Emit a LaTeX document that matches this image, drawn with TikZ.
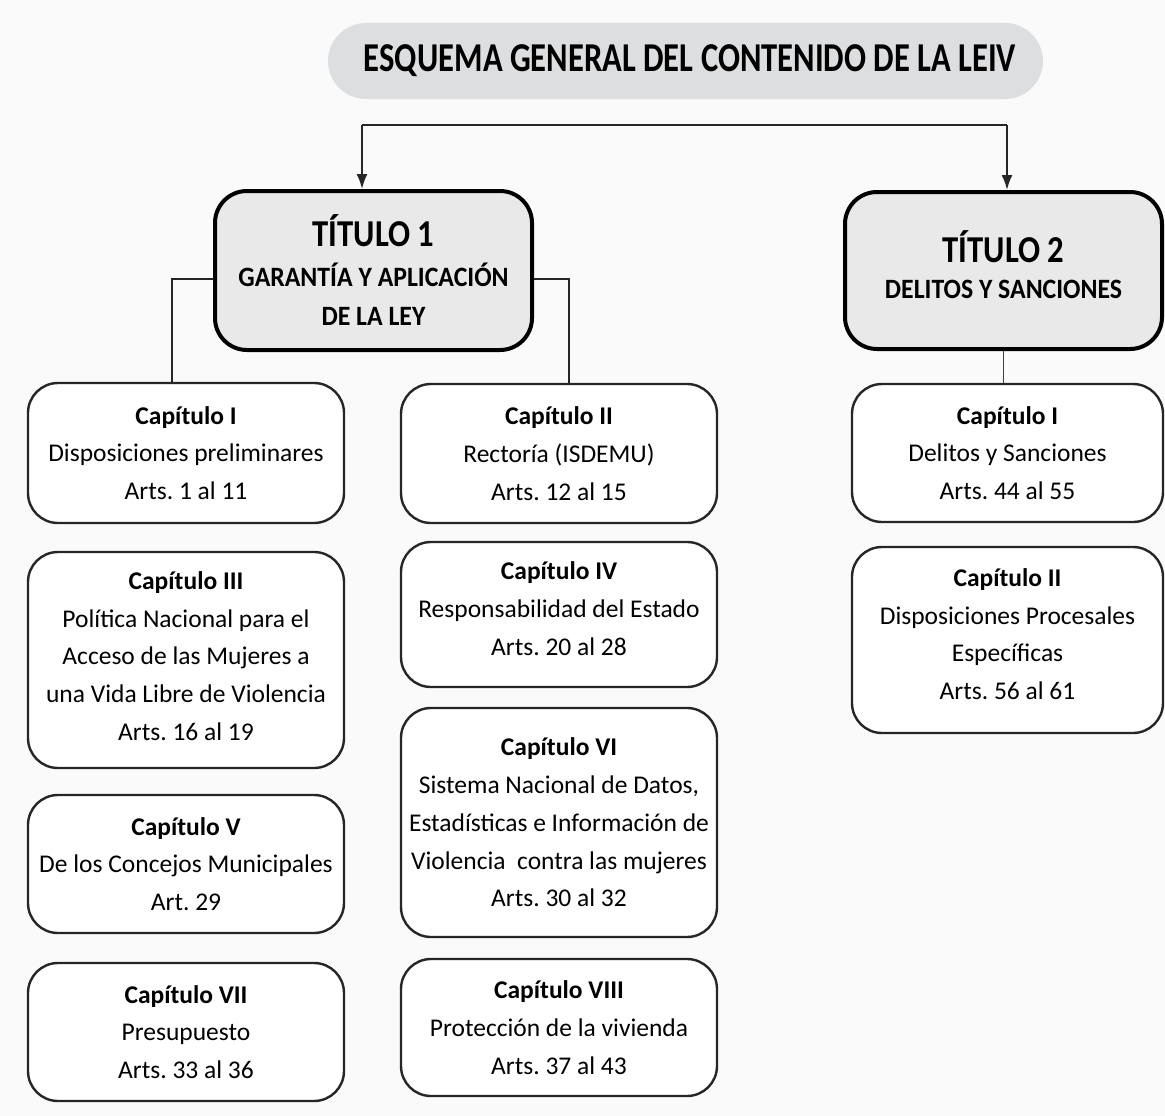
\documentclass[tikz,border=0pt]{standalone}
\usepackage{fontspec}
\setmainfont{Carlito}
\usetikzlibrary{arrows.meta}
\definecolor{bgc}{HTML}{FAFAFA}
\definecolor{titlegray}{HTML}{DDDEDF}
\definecolor{tgray}{HTML}{E9E9E9}
\tikzset{
  headbox/.style={fill=titlegray, rounded corners=38pt, minimum width=715pt, minimum height=76pt, inner sep=0pt,
    font=\fontsize{41}{45}\selectfont\bfseries},
  titbox/.style={draw=black, line width=4pt, fill=tgray, rounded corners=32pt, minimum width=317pt, inner sep=0pt, align=center,
    font=\fontsize{28}{39.5}\selectfont\bfseries},
  capbox/.style={draw=black!85, line width=2.4pt, fill=white, rounded corners=30pt, minimum width=316pt, inner sep=0pt, align=center,
    font=\fontsize{25.5}{37.7}\selectfont},
  conn/.style={line width=2pt, draw=black!85},
  thinconn/.style={line width=1.3pt, draw=black!75},
  arr/.style={conn, -{Latex[length=15pt,width=11pt]}}
}
\newcommand\caphead[1]{\textbf{#1}}
\newcommand\bigtit[1]{{\fontsize{38}{40}\selectfont\scalebox{0.86}[1]{#1}}}
\newcommand\subtit[1]{\scalebox{0.92}[1]{#1}}
\frenchspacing
\begin{document}
\begin{tikzpicture}[x=1pt,y=-1pt]
\fill[bgc] (0,0) rectangle (1165,1116);
\useasboundingbox (0,0) rectangle (1165,1116);

\node[headbox] (head) at (685.5,61) {\hspace*{9pt}\scalebox{0.795}[1]{ESQUEMA GENERAL DEL CONTENIDO DE LA LEIV}};

\node[titbox, minimum height=159pt] (t1) at (373.5,270.5)
  {\bigtit{TÍTULO 1}\\
   \subtit{GARANTÍA Y APLICACIÓN}\\
   \subtit{DE LA LEY}};
\node[titbox, minimum height=157pt, text depth=12pt] (t2) at (1003.5,270.5)
  {\bigtit{TÍTULO 2}\\[-4pt]
   \subtit{DELITOS Y SANCIONES}};

% left column
\node[capbox, minimum height=140pt] (c1) at (186,453)
  {\caphead{Capítulo I}\\Disposiciones preliminares\\Arts. 1 al 11};
\node[capbox, minimum height=216pt, text depth=8pt] (c3) at (186,660)
  {\caphead{Capítulo III}\\Política Nacional para el\\Acceso de las Mujeres a\\una Vida Libre de Violencia\\Arts. 16 al 19};
\node[capbox, minimum height=138pt] (c5) at (186,864)
  {\caphead{Capítulo V}\\De los Concejos Municipales\\Art. 29};
\node[capbox, minimum height=138pt] (c7) at (186,1032)
  {\caphead{Capítulo VII}\\Presupuesto\\Arts. 33 al 36};

% middle column
\node[capbox, minimum height=139pt] (c2) at (559,453.5)
  {\caphead{Capítulo II}\\Rectoría (ISDEMU)\\Arts. 12 al 15};
\node[capbox, minimum height=145pt, text depth=12pt] (c4) at (559,614.5)
  {\caphead{Capítulo IV}\\Responsabilidad del Estado\\Arts. 20 al 28};
\node[capbox, minimum height=229pt] (c6) at (559,822.5)
  {\caphead{Capítulo VI}\\Sistema Nacional de Datos,\\Estadísticas e Información de\\Violencia\ \ contra las mujeres\\Arts. 30 al 32};
\node[capbox, minimum height=137pt] (c8) at (559,1027.5)
  {\caphead{Capítulo VIII}\\Protección de la vivienda\\Arts. 37 al 43};

% right column
\node[capbox, minimum width=311pt, minimum height=138pt] (r1) at (1007.5,453)
  {\caphead{Capítulo I}\\Delitos y Sanciones\\Arts. 44 al 55};
\node[capbox, minimum width=311pt, minimum height=186pt, text depth=12pt] (r2) at (1007.5,640)
  {\caphead{Capítulo II}\\Disposiciones Procesales\\Específicas\\Arts. 56 al 61};

% connectors
\coordinate (hl) at (362,125);
\coordinate (hr) at (1007,125);
\draw[conn] (hl) -- (hr);
\draw[arr] (hl) -- (hl |- t1.north);
\draw[arr] (hr) -- (hr |- t2.north);
\draw[conn] ([yshift=-8.5pt]t1.west) -| ([xshift=-14pt]c1.north);
\draw[conn] ([yshift=-8.5pt]t1.east) -| ([xshift=10pt]c2.north);
\draw[thinconn] (t2.south) -- (t2.south |- r1.north);
\end{tikzpicture}
\end{document}
